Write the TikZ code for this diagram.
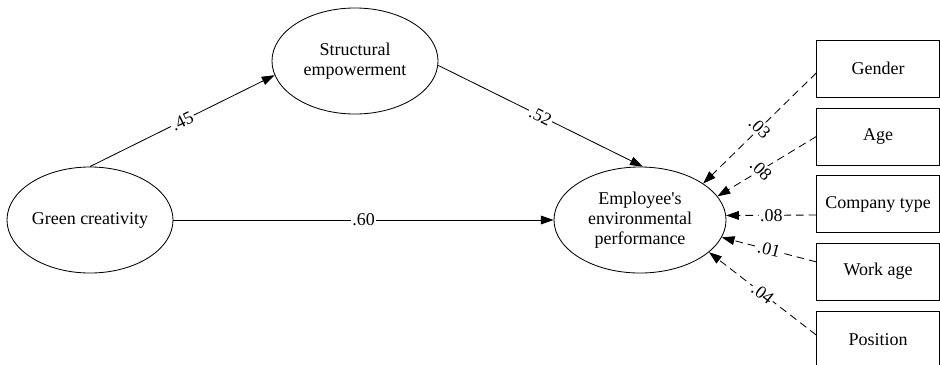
\documentclass[tikz,border=0pt]{standalone}
\usepackage{fontspec}
\setmainfont{Liberation Serif}
\usetikzlibrary{arrows.meta,shapes.geometric}
\tikzset{latent/.style={draw=black,ellipse,minimum width=4.15cm,minimum height=2.65cm,inner sep=0pt,align=center},obs/.style={draw=black,rectangle,minimum width=3.06cm,minimum height=1.425cm,inner sep=0pt,align=center},eff/.style={-{Triangle[length=3.2mm,width=2.2mm]},line width=0.6pt},ctrl/.style={eff,dash pattern=on 5.5pt off 3.5pt},lab/.style={fill=white,inner sep=1pt}}

\begin{document}
\begin{tikzpicture}[x=0.025cm,y=-0.025cm,font=\rmfamily\fontsize{12.8pt}{14.2pt}\selectfont,line width=0.6pt]
\useasboundingbox (0,0) rectangle (940,364);
\node[latent] (gc) at (90,220) {Green creativity};
\node[latent] (se) at (355,61) {Structural\\empowerment};
\node[latent,minimum width=4.3cm] (eep) at (640,220) {Employee\textquotesingle s\\environmental\\performance};
\node[obs] (gender) at (878,68.5) {Gender};
\node[obs] (age) at (878,136.5) {Age};
\node[obs] (ctype) at (878,204) {Company type};
\node[obs] (wage) at (878,271.5) {Work age};
\node[obs] (posn) at (878,339.5) {Position};
% paths
\draw[eff] (gc.north) -- node[lab,sloped]{.45} (se.190);
\draw[eff] (se.-3) -- node[lab,sloped]{.52} (eep.87);
\draw[eff] (gc) -- node[lab]{.60} (eep);
% controls
\draw[ctrl] ([yshift=-0.11cm]gender.west) -- node[lab,rotate=-45]{.03} (eep.30);
\draw[ctrl] (age.west) -- node[lab,rotate=-45,pos=.56]{.08} (eep.17);
\draw[ctrl] ([yshift=-0.275cm]ctype.west) -- node[lab]{.08} (eep.3);
\draw[ctrl] ([yshift=0.24cm]wage.west) -- node[lab,sloped]{.01} (eep.-12);
\draw[ctrl] ([yshift=0.11cm]posn.west) -- node[lab,sloped]{.04} (eep.-25);
\end{tikzpicture}
\end{document}
